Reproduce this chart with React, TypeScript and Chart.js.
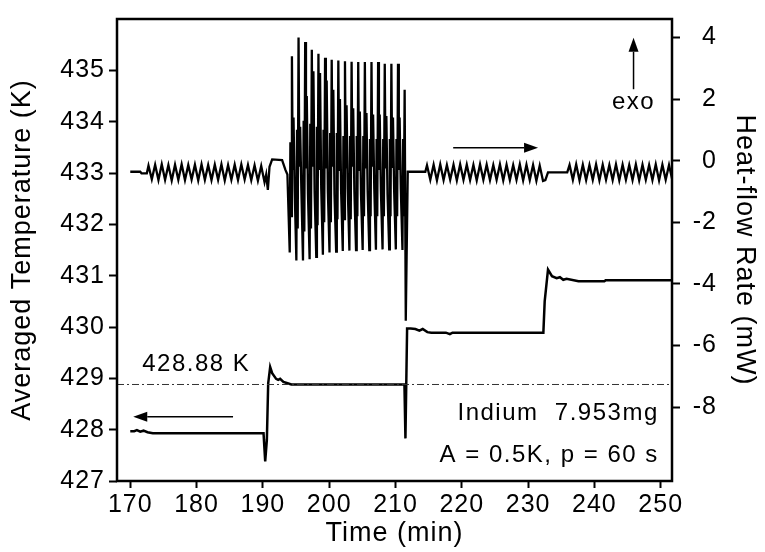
import React, { useEffect, useRef } from "react";
import { Chart, registerables } from "chart.js";

Chart.register(...registerables);

const FONT = '"Liberation Sans", Arial, Helvetica, sans-serif';

// ---- axis ticks ----
const xTicks = [170, 180, 190, 200, 210, 220, 230, 240, 250];
const tempTicks = [427, 428, 429, 430, 431, 432, 433, 434, 435];
const heatTicks = [-8, -6, -4, -2, 0, 2, 4];

// ---- Averaged temperature (K) ----
const tempTime = [170, 170.6, 171.0, 171.5, 172.0, 172.6, 173.4, 190.1, 190.35, 190.6, 190.8, 191.1, 191.4, 192.0, 192.3, 192.6, 193.1, 193.6, 194.3, 211.35, 211.5, 211.75, 212.3, 213.0, 213.6, 214.1, 214.8, 215.4, 217.6, 218.2, 218.6, 232.3, 232.5, 233.0, 233.6, 234.3, 234.8, 235.3, 235.8, 237.6, 241.5, 241.7, 251.7];
const tempValue = [427.97, 427.97, 427.99, 427.96, 427.98, 427.95, 427.93, 427.93, 427.38, 427.8, 428.9, 429.22, 429.1, 428.99, 428.97, 428.99, 428.93, 428.91, 428.88, 428.88, 427.83, 429.97, 429.97, 429.96, 429.93, 429.96, 429.9, 429.89, 429.89, 429.86, 429.89, 429.89, 430.5, 431.12, 430.99, 430.95, 430.97, 430.92, 430.94, 430.89, 430.89, 430.91, 430.91];

// reference temperature line
const refTemp = 428.88;
const refTime = [168, 251.7];

// ---- Heat-flow rate (mW) ----
const hfLeadTime = [170, 171.5, 171.7, 172.5];
const hfLeadValue = [-0.36, -0.36, -0.41, -0.41];

const hfRippleStep = 0.5; // sampling of the modulation ripples (min)
const hfRipple1Start = 172.75;
const hfRipple1 = [-0.16, -0.6, -0.13, -0.63, -0.12, -0.62, -0.14, -0.64, -0.13, -0.62, -0.12, -0.63, -0.14, -0.61, -0.13, -0.64, -0.12, -0.62, -0.14, -0.63, -0.13, -0.62, -0.12, -0.64, -0.14, -0.62, -0.13, -0.63, -0.12, -0.61, -0.14, -0.63, -0.15, -0.65, -0.17, -0.7];

const hfStep1Time = [190.5, 190.75, 191.0, 191.4, 192.9, 193.4, 193.7];
const hfStep1Value = [-0.45, -0.95, -0.2, 0.04, 0.02, -0.3, -0.45];

// melting region: one modulation period per entry, starting at hfBigStart
const hfBigStart = 194.05;
const hfBigTrough = [-2.98, -3.24, -3.24, -3.2, -3.12, -3.05, -2.98, -2.95, -2.93, -2.92, -2.9, -2.9, -2.9, -2.89, -2.88, -2.88, -2.88, -2.9];
const hfBigPre = [0.6, 1.0, 1.3, 1.2, 1.1, 1.0, 0.9, 0.9, 0.8, 0.8, 0.8, 0.8, 0.7, 0.7, 0.7, 0.7, 0.7, 0.7];
const hfBigPreDip = [-1.8, -2.2, -2.3, -2.2, -2.1, -2.0, -2.0, -1.9, -1.9, -1.9, -1.8, -1.8, -1.8, -1.8, -1.8, -1.8, -1.8, -1.8];
const hfBigPeak = [3.39, 4.0, 3.85, 3.6, 3.47, 3.34, 3.28, 3.25, 3.23, 3.21, 3.2, 3.2, 3.2, 3.2, 3.15, 3.15, 3.15, 2.3];
const hfBigDip = [-0.3, -0.2, -0.25, -0.2, -0.3, -0.25, -0.2, -0.3, -0.25, -0.2, -0.3, -0.25, -0.2, -0.3, -0.25, -0.2, -0.3];
const hfBigSecond = [1.4, 1.1, 2.1, 2.9, 2.85, 2.6, 2.3, 2.0, 1.8, 1.7, 1.6, 1.55, 1.5, 1.5, 1.45, 1.4, 1.4];
const hfBigFall = [-1.0, -0.9, -1.1, -1.0, -0.9, -1.0, -1.1, -1.0, -0.9, -1.0, -1.1, -1.0, -0.9, -1.0, -1.1, -1.0, -0.9];
// sample offsets within each period (min): trough, pre, preDip, peak, dip, second, fall
const hfBigPhase = [0, 0.1, 0.2, 0.33, 0.45, 0.57, 0.75];

const hfStep2Time = [211.55, 211.85, 214.5];
const hfStep2Value = [-5.2, -0.36, -0.36];

const hfRipple2Start = 214.75;
const hfRipple2 = [-0.15, -0.62, -0.13, -0.64, -0.12, -0.63, -0.14, -0.62, -0.13, -0.64, -0.12, -0.62, -0.13, -0.63, -0.14, -0.64, -0.12, -0.62, -0.13, -0.63, -0.14, -0.62, -0.12, -0.64, -0.13, -0.63, -0.14, -0.62, -0.12, -0.64, -0.13, -0.63, -0.14, -0.65, -0.16, -0.66];

const hfStep3Time = [232.6, 233.0, 235.9];
const hfStep3Value = [-0.63, -0.38, -0.38];

const hfRipple3Start = 236.25;
const hfRipple3 = [-0.14, -0.62, -0.12, -0.64, -0.13, -0.63, -0.14, -0.62, -0.12, -0.64, -0.13, -0.62, -0.14, -0.63, -0.12, -0.64, -0.13, -0.62, -0.14, -0.63, -0.12, -0.64, -0.13, -0.62, -0.14, -0.63, -0.12, -0.64, -0.13, -0.62, -0.14, -0.63];

type P = { x: number; y: number };

function pairs(ts: number[], vs: number[]): P[] {
  return ts.map((t, i) => ({ x: t, y: vs[i] }));
}
function sampled(start: number, vs: number[]): P[] {
  return vs.map((v, i) => ({ x: start + i * hfRippleStep, y: v }));
}
function bigOscillation(): P[] {
  const out: P[] = [];
  hfBigTrough.forEach((tr, k) => {
    const t = hfBigStart + k;
    out.push({ x: t + hfBigPhase[0], y: tr });
    out.push({ x: t + hfBigPhase[1], y: hfBigPre[k] });
    out.push({ x: t + hfBigPhase[2], y: hfBigPreDip[k] });
    out.push({ x: t + hfBigPhase[3], y: hfBigPeak[k] });
    if (k < hfBigDip.length) {
      out.push({ x: t + hfBigPhase[4], y: hfBigDip[k] });
      out.push({ x: t + hfBigPhase[5], y: hfBigSecond[k] });
      out.push({ x: t + hfBigPhase[6], y: hfBigFall[k] });
    }
  });
  return out;
}

function heatFlowPoints(): P[] {
  return [
    ...pairs(hfLeadTime, hfLeadValue),
    ...sampled(hfRipple1Start, hfRipple1),
    ...pairs(hfStep1Time, hfStep1Value),
    ...bigOscillation(),
    ...pairs(hfStep2Time, hfStep2Value),
    ...sampled(hfRipple2Start, hfRipple2),
    ...pairs(hfStep3Time, hfStep3Value),
    ...sampled(hfRipple3Start, hfRipple3),
  ];
}

function arrow(ctx: CanvasRenderingContext2D, x0: number, y0: number, x1: number, y1: number) {
  const ang = Math.atan2(y1 - y0, x1 - x0);
  const len = 14;
  const hw = 5;
  const bx = x1 - len * Math.cos(ang);
  const by = y1 - len * Math.sin(ang);
  ctx.beginPath();
  ctx.moveTo(x0, y0);
  ctx.lineTo(bx, by);
  ctx.stroke();
  ctx.beginPath();
  ctx.moveTo(x1, y1);
  ctx.lineTo(bx + hw * Math.sin(ang), by - hw * Math.cos(ang));
  ctx.lineTo(bx - hw * Math.sin(ang), by + hw * Math.cos(ang));
  ctx.closePath();
  ctx.fill();
}

const spacingPlugin = {
  id: "spacing",
  beforeDraw(chart: any) {
    chart.ctx.letterSpacing = "1px";
  },
};

const annotationPlugin = {
  id: "annotations",
  afterDatasetsDraw(chart: any) {
    const { ctx, chartArea: a, scales } = chart;
    const x = scales.x;
    const yT = scales.yT;
    const yH = scales.yH;
    ctx.save();
    ctx.strokeStyle = "#000";
    ctx.fillStyle = "#000";
    ctx.lineWidth = 2.5;
    ctx.strokeRect(a.left, a.top, a.right - a.left, a.bottom - a.top);

    ctx.font = `24px ${FONT}`;
    ctx.letterSpacing = "1.5px";
    ctx.textBaseline = "middle";
    ctx.textAlign = "left";
    ctx.fillText("428.88 K", x.getPixelForValue(171.8), yT.getPixelForValue(429.27));
    ctx.textAlign = "right";
    ctx.fillText("Indium  7.953mg", x.getPixelForValue(249.7), yH.getPixelForValue(-8.22));
    ctx.fillText("A = 0.5K, p = 60 s", x.getPixelForValue(249.7), yH.getPixelForValue(-9.57));
    ctx.textAlign = "center";
    ctx.fillText("exo", x.getPixelForValue(245.9), yH.getPixelForValue(1.9));

    ctx.lineWidth = 1.5;
    arrow(ctx, x.getPixelForValue(185.5), yT.getPixelForValue(428.25), x.getPixelForValue(170.45), yT.getPixelForValue(428.25));
    arrow(ctx, x.getPixelForValue(218.7), yH.getPixelForValue(0.42), x.getPixelForValue(231.5), yH.getPixelForValue(0.42));
    arrow(ctx, x.getPixelForValue(245.9), yH.getPixelForValue(2.32), x.getPixelForValue(245.9), yH.getPixelForValue(3.99));
    ctx.restore();
  },
};

function axisCommon(tickLength: number) {
  return {
    grid: { drawOnChartArea: false, drawTicks: true, tickLength, tickWidth: 2, tickColor: "#000" },
    border: { display: false },
  };
}

export default function App() {
  const ref = useRef<HTMLCanvasElement | null>(null);

  useEffect(() => {
    if (!ref.current) return;
    const chart = new Chart(ref.current, {
      type: "line",
      data: {
        datasets: [
          {
            label: "ref",
            data: refTime.map((t) => ({ x: t, y: refTemp })),
            yAxisID: "yT",
            borderColor: "#333",
            borderWidth: 1,
            borderDash: [7, 3, 2, 3],
            pointRadius: 0,
          },
          {
            label: "Averaged Temperature",
            data: pairs(tempTime, tempValue),
            yAxisID: "yT",
            borderColor: "#000",
            borderWidth: 2.5,
            pointRadius: 0,
            tension: 0,
          },
          {
            label: "Heat-flow Rate",
            data: heatFlowPoints(),
            yAxisID: "yH",
            borderColor: "#000",
            borderWidth: 2.3,
            pointRadius: 0,
            tension: 0,
          },
        ],
      },
      options: {
        responsive: false,
        animation: false,
        events: [],
        layout: { padding: { left: 0, top: 14, right: 48, bottom: 0 } },
        plugins: { legend: { display: false }, tooltip: { enabled: false } },
        scales: {
          x: {
            type: "linear",
            position: "bottom",
            min: 168,
            max: 251.7,
            afterBuildTicks: (s: any) => {
              s.ticks = xTicks.map((v) => ({ value: v }));
            },
            afterFit: (s: any) => {
              s.height = 71;
            },
            ...axisCommon(7),
            ticks: { color: "#000", font: { family: FONT, size: 25 }, padding: 2, maxRotation: 0, autoSkip: false },
            title: { display: true, text: "Time (min)", color: "#000", font: { family: FONT, size: 27 }, padding: { top: 0, bottom: 2 } },
          },
          yT: {
            type: "linear",
            position: "left",
            min: 427,
            max: 436,
            afterBuildTicks: (s: any) => {
              s.ticks = tempTicks.map((v) => ({ value: v }));
            },
            afterFit: (s: any) => {
              s.width = 117;
            },
            ...axisCommon(8),
            ticks: { color: "#000", font: { family: FONT, size: 25 }, padding: 4, autoSkip: false },
            title: { display: true, text: "Averaged Temperature (K)", color: "#000", font: { family: FONT, size: 27 }, padding: { top: 6, bottom: 0 } },
          },
          yH: {
            type: "linear",
            position: "right",
            min: -10.4,
            max: 4.6,
            afterBuildTicks: (s: any) => {
              s.ticks = heatTicks.map((v) => ({ value: v }));
            },
            afterFit: (s: any) => {
              s.width = 45;
            },
            ...axisCommon(8),
            ticks: { color: "#000", font: { family: FONT, size: 25 }, padding: 4, autoSkip: false, crossAlign: "far" },
            title: { display: true, text: "Heat-flow Rate (mW)", color: "#000", font: { family: FONT, size: 27 }, padding: { top: -44, bottom: 0 } },
          },
        },
      } as any,
      plugins: [spacingPlugin, annotationPlugin],
    });
    return () => chart.destroy();
  }, []);

  return (
    <div style={{ position: "absolute", left: 0, top: 0, width: 765, height: 552, background: "#fff" }}>
      <canvas ref={ref} width={765} height={552} style={{ width: 765, height: 552, display: "block" }} />
    </div>
  );
}
